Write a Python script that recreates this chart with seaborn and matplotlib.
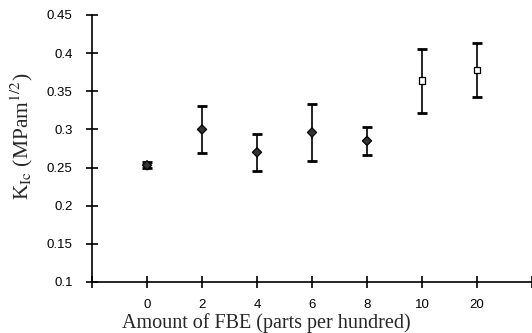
import matplotlib
matplotlib.use("Agg")
import numpy as np
import pandas as pd
import matplotlib.pyplot as plt
import seaborn as sns

# Data
fbe_labels = ["0", "2", "4", "6", "8", "10", "20"]
k_ic = [0.253, 0.300, 0.270, 0.296, 0.285, 0.364, 0.378]
k_err = [0.004, 0.031, 0.024, 0.037, 0.018, 0.042, 0.035]
series = ["filled", "filled", "filled", "filled", "filled", "open", "open"]

sns.set_theme(style="white")
plt.rcParams["font.family"] = ["Liberation Sans", "DejaVu Sans"]
plt.rcParams["mathtext.fontset"] = "stix"

df = pd.DataFrame({"pos": np.arange(len(fbe_labels)), "k": k_ic,
                   "err": k_err, "series": series})

fig = plt.figure(figsize=(5.32, 3.33), dpi=100)
ax = fig.add_axes([92 / 532, 51 / 333, 440 / 532, 267 / 333])

# error bars first, markers on top
ax.errorbar(df["pos"], df["k"], yerr=df["err"], fmt="none", ecolor="black",
            elinewidth=1.2, capsize=3.3, capthick=2.0, zorder=2)

sns.scatterplot(data=df, x="pos", y="k", style="series", hue="series",
                markers={"filled": "D", "open": "s"},
                palette={"filled": "#333333", "open": "white"},
                s=22, edgecolor="black", linewidth=0.9, legend=False,
                ax=ax, zorder=3)

ax.set_xlim(-1, 7)
ax.set_ylim(0.1, 0.45)
ax.set_xticks(list(range(-1, 8)))
ax.set_xticklabels([""] + fbe_labels + [""])
ax.set_yticks([0.1, 0.15, 0.2, 0.25, 0.3, 0.35, 0.4, 0.45])
ax.set_yticklabels(["0.1", "0.15", "0.2", "0.25", "0.3", "0.35", "0.4", "0.45"])
ax.tick_params(bottom=True, left=True, direction="inout", length=8,
               width=1.2, labelsize=9.5, colors="black")
ax.tick_params(axis="x", pad=8)
ax.tick_params(axis="y", pad=10)

for side in ["top", "right"]:
    ax.spines[side].set_visible(False)
for side in ["left", "bottom"]:
    ax.spines[side].set_color("black")
    ax.spines[side].set_linewidth(1.2)

ax.set_xlabel("Amount of FBE (parts per hundred)", fontsize=14.5,
              family="Liberation Serif")
ax.set_ylabel(r"K$_{\mathrm{Ic}}$ (MPam$^{\mathrm{1/2}}$)", fontsize=15.5,
              family="Liberation Serif")
ax.xaxis.set_label_coords((266 - 92) / 440, -0.115)
ax.yaxis.set_label_coords(-0.13, 0.545)

fig.savefig("out.png", dpi=100)
